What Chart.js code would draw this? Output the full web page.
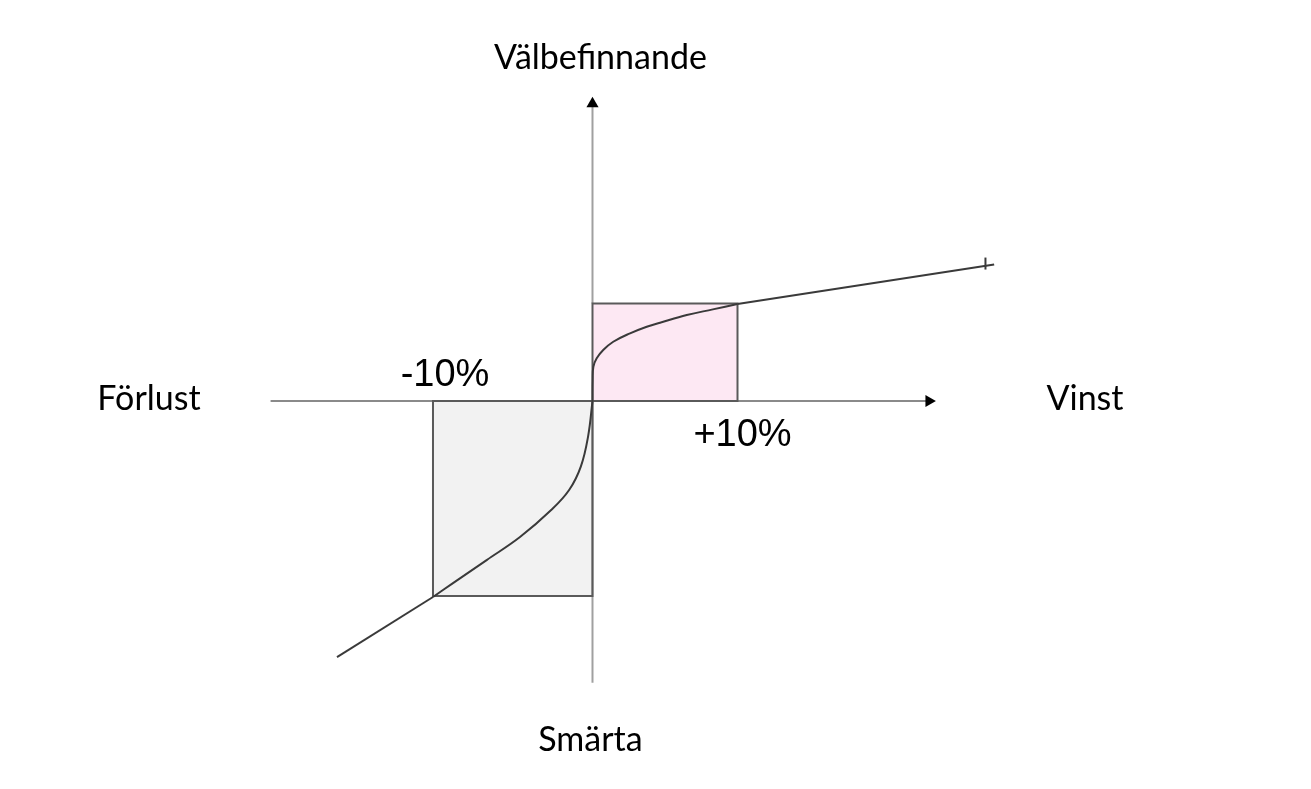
<!DOCTYPE html>
<html>
<head>
<meta charset="utf-8">
<script src="https://cdn.jsdelivr.net/npm/chart.js@4"></script>
<style>
  html, body { margin: 0; padding: 0; background: #fff; }
  #wrap { width: 1311px; height: 789px; }
</style>
</head>
<body>
<div id="wrap"><canvas id="chart"></canvas></div>
<script>
// value function: x = vinst/förlust (%), y = välbefinnande
var curveGainX = [0, 0.01, 0.06, 0.29, 0.74, 1.43, 2.59, 3.74, 4.66, 6.5, 8.3, 10];
var curveGainY = [0, 2.15, 3.52, 4.38, 5.23, 6.08, 6.94, 7.62, 8.03, 8.82, 9.4, 9.95];
var curveLossX = [-11.0, -9.62, -7.3, -5.0, -2.85, -1.6, -0.8, -0.3, 0];
var curveLossY = [-20.1, -18.67, -16.31, -13.95, -11.18, -9.1, -6.7, -3.6, 0];
var tailGainX = [10, 27.7];
var tailGainY = [9.95, 14.0];
var tailLossX = [-17.62, -11.0];
var tailLossY = [-26.26, -20.1];
var xAxisRange = [-22.2, 23.2];
var yAxisRange = [-28.9, 30.5];
var gainBox = [10, 10];     // width (%), height
var lossBox = [-11, -20];
var axisTitles = ['Välbefinnande', 'Smärta', 'Förlust', 'Vinst'];
var tickTexts = ['-10%', '+10%'];

function pts(xs, ys) {
  return xs.map(function (x, i) { return { x: x, y: ys[i] }; });
}
function boxArea(w, h) {
  return [{ x: 0, y: 0 }, { x: 0, y: h }, { x: w, y: h }, { x: w, y: 0 }];
}
function boxEdge(w, h) {
  return boxArea(w, h).concat([{ x: 0, y: 0 }]);
}

var textPlugin = {
  id: 'texts',
  afterDraw: function (chart) {
    var c = chart.ctx, xs = chart.scales.x, ys = chart.scales.y;
    var ox = xs.getPixelForValue(0), oy = ys.getPixelForValue(0);
    c.save();
    c.fillStyle = '#000';
    c.textBaseline = 'middle';
    c.textAlign = 'center';
    c.font = '34px Lato';
    c.fillText(axisTitles[0], ox + 8, 58);
    c.fillText(axisTitles[1], ox - 2, 740);
    c.fillText(axisTitles[2], 149, oy - 2);
    c.fillText(axisTitles[3], 1085, oy - 2);
    c.font = '38px "Liberation Sans"';
    c.fillText(tickTexts[0], xs.getPixelForValue(lossBox[0]) + 12, oy - 26);
    c.fillText(tickTexts[1], xs.getPixelForValue(gainBox[0]) + 5, oy + 34);
    c.restore();
  }
};

// higher order = drawn further back
var line = { showLine: true, pointRadius: 0, tension: 0, fill: false };

new Chart(document.getElementById('chart'), {
  type: 'scatter',
  plugins: [textPlugin],
  data: {
    datasets: [
      Object.assign({}, line, { order: 10, data: boxArea(gainBox[0], gainBox[1]), borderWidth: 0, borderColor: 'rgba(0,0,0,0)', backgroundColor: '#fde8f3', fill: 'origin' }),
      Object.assign({}, line, { order: 10, data: boxArea(lossBox[0], lossBox[1]), borderWidth: 0, borderColor: 'rgba(0,0,0,0)', backgroundColor: '#f2f2f2', fill: 'origin' }),
      Object.assign({}, line, { order: 8, data: [{ x: xAxisRange[0], y: 0 }, { x: lossBox[0], y: 0 }], borderColor: '#8a8a8a', borderWidth: 2 }),
      Object.assign({}, line, { order: 8, data: [{ x: gainBox[0], y: 0 }, { x: xAxisRange[1], y: 0 }], borderColor: '#8a8a8a', borderWidth: 2 }),
      Object.assign({}, line, { order: 8, data: [{ x: 0, y: yAxisRange[0] }, { x: 0, y: 0 }], borderColor: '#a0a0a0', borderWidth: 2 }),
      Object.assign({}, line, { order: 8, data: [{ x: 0, y: gainBox[1] }, { x: 0, y: yAxisRange[1] }], borderColor: '#a0a0a0', borderWidth: 2 }),
      Object.assign({}, line, { order: 6, data: boxEdge(gainBox[0], gainBox[1]), borderColor: '#5a5a5a', borderWidth: 2 }),
      Object.assign({}, line, { order: 6, data: boxEdge(lossBox[0], lossBox[1]), borderColor: '#5a5a5a', borderWidth: 2 }),
      { order: 4, data: [{ x: xAxisRange[1], y: 0 }], pointStyle: 'triangle', rotation: 90, pointRadius: 7, backgroundColor: '#000', borderColor: '#000', borderWidth: 0 },
      { order: 4, data: [{ x: 0, y: yAxisRange[1] }], pointStyle: 'triangle', rotation: 0, pointRadius: 7, backgroundColor: '#000', borderColor: '#000', borderWidth: 0 },
      Object.assign({}, line, { order: 1, data: pts(curveGainX, curveGainY), borderColor: '#3a3a3a', borderWidth: 2, tension: 0.4 }),
      Object.assign({}, line, { order: 1, data: pts(curveLossX, curveLossY), borderColor: '#3a3a3a', borderWidth: 2, tension: 0.4 }),
      Object.assign({}, line, { order: 1, data: pts(tailGainX, tailGainY), borderColor: '#3a3a3a', borderWidth: 2 }),
      Object.assign({}, line, { order: 1, data: pts(tailLossX, tailLossY), borderColor: '#3a3a3a', borderWidth: 2 }),
      { order: 1, data: [{ x: 27.1, y: 14.1 }], pointStyle: 'line', rotation: 90, pointRadius: 6, borderColor: '#3a3a3a', borderWidth: 2 }
    ]
  },
  options: {
    responsive: true,
    maintainAspectRatio: false,
    animation: false,
    layout: { padding: 0, autoPadding: false },
    plugins: { legend: { display: false }, tooltip: { enabled: false } },
    scales: {
      x: { type: 'linear', display: false, min: -40.86, max: 49.55 },
      y: { type: 'linear', display: false, min: -39.79, max: 41.13 }
    }
  }
});
</script>
</body>
</html>
